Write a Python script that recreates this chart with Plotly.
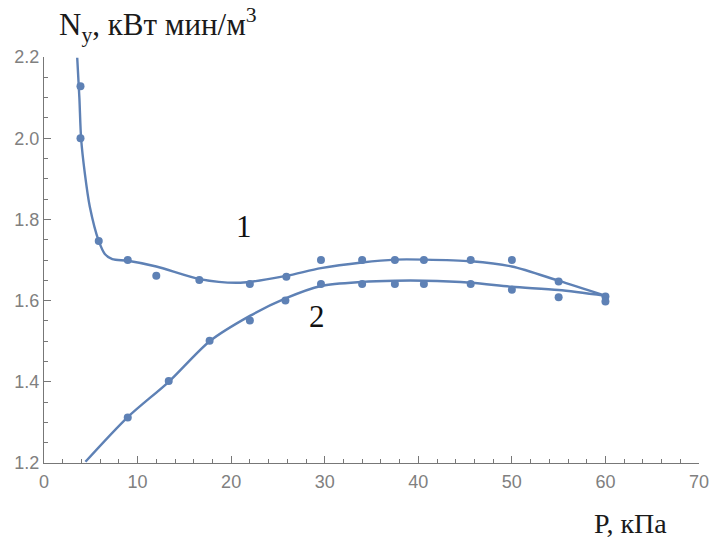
import plotly.graph_objects as go

# ---- measured points ----
p1 = [3.9, 3.9, 5.85, 8.95, 12.0, 16.6, 22.0, 25.9, 29.6, 34.0, 37.5, 40.6, 45.6, 50.0, 55.0, 60.0]
n1 = [2.128, 2.0, 1.747, 1.70, 1.661, 1.651, 1.641, 1.659, 1.70, 1.70, 1.70, 1.70, 1.70, 1.70, 1.647, 1.610]

p2 = [8.95, 13.33, 17.7, 22.0, 25.8, 29.6, 34.0, 37.5, 40.6, 45.6, 50.0, 55.0, 60.0]
n2 = [1.312, 1.402, 1.501, 1.551, 1.600, 1.641, 1.641, 1.641, 1.641, 1.641, 1.627, 1.608, 1.598]

# ---- fitted curves (knots) ----
fit1_p = [3.55, 3.78, 3.97, 4.36, 4.89, 5.85, 6.5, 7.3, 8.95, 12.0, 16.64, 21.0, 25.87,
          29.6, 33.98, 37.54, 40.63, 45.65, 50.0, 54.98, 59.96]
fit1_n = [2.198, 2.10, 1.998, 1.914, 1.832, 1.747, 1.715, 1.702, 1.698, 1.684, 1.653, 1.644, 1.661,
          1.680, 1.694, 1.701, 1.701, 1.697, 1.684, 1.649, 1.612]

fit2_p = [4.43, 8.95, 13.33, 17.71, 22.05, 25.87, 29.6, 33.98, 37.54, 40.63, 45.65, 50.0,
          54.98, 59.96]
fit2_n = [1.203, 1.313, 1.40, 1.50, 1.563, 1.606, 1.636, 1.646, 1.649, 1.649, 1.644, 1.634,
          1.626, 1.612]

x_ticks = [0, 10, 20, 30, 40, 50, 60, 70]
x_labels = ["0", "10", "20", "30", "40", "50", "60", "70"]
y_ticks = [1.2, 1.4, 1.6, 1.8, 2.0, 2.2]
y_labels = ["1.2", "1.4", "1.6", "1.8", "2.0", "2.2"]

curve_labels = ["1", "2"]
curve_label_pos = [(21.4, 1.782), (29.15, 1.561)]

COLOR = "#5E81B5"
AXIS = "#777777"
TICKFONT = dict(family="Liberation Sans, Arial, sans-serif", size=18, color="#808080")
SERIF = "Liberation Serif, Times New Roman, serif"

fig = go.Figure()
for fx, fy in ((fit1_p, fit1_n), (fit2_p, fit2_n)):
    fig.add_trace(go.Scatter(x=fx, y=fy, mode="lines",
                             line=dict(color=COLOR, width=2.4, shape="spline", smoothing=0.8),
                             showlegend=False, hoverinfo="skip"))
fig.add_trace(go.Scatter(x=p1, y=n1, mode="markers",
                         marker=dict(color=COLOR, size=8), showlegend=False))
fig.add_trace(go.Scatter(x=p2, y=n2, mode="markers",
                         marker=dict(color=COLOR, size=8), showlegend=False))

for txt, (px, py) in zip(curve_labels, curve_label_pos):
    fig.add_annotation(x=px, y=py, xref="x", yref="y", text=txt, showarrow=False,
                       font=dict(family=SERIF, size=31, color="#111111"))

fig.add_annotation(x=0.0198, y=1.08, xref="paper", yref="paper", xanchor="left", yanchor="middle",
                   text="N<sub>y</sub>, кВт мин/м<sup>3</sup>", showarrow=False,
                   font=dict(family=SERIF, size=31, color="#1a1a1a"))
fig.add_annotation(x=0.8947, y=-0.148, xref="paper", yref="paper", xanchor="center", yanchor="middle",
                   text="P, кПа", showarrow=False,
                   font=dict(family=SERIF, size=28, color="#1a1a1a"))

minor_x = [v for v in range(0, 71, 2)]
minor_y = [round(1.2 + 0.05 * i, 2) for i in range(21)]

common = dict(ticks="inside", ticklen=7, tickcolor=AXIS, tickwidth=1.2, showline=True,
              linecolor=AXIS, linewidth=1.3, showgrid=False, zeroline=False,
              tickfont=TICKFONT, automargin=False)
fig.update_xaxes(range=[0, 70], tickvals=x_ticks, ticktext=x_labels, ticklabelstandoff=2,
                 minor=dict(tickvals=minor_x, ticks="inside", ticklen=4, tickcolor=AXIS, tickwidth=1.2,
                            showgrid=False), **common)
fig.update_yaxes(range=[1.2, 2.2], tickvals=y_ticks, ticktext=y_labels,
                 minor=dict(tickvals=minor_y, ticks="inside", ticklen=4, tickcolor=AXIS, tickwidth=1.2,
                            showgrid=False), **common)

fig.update_layout(width=711, height=540, margin=dict(l=44, r=12, t=57, b=77),
                  plot_bgcolor="white", paper_bgcolor="white")

fig.write_html("out.html", config={"displayModeBar": False},
               post_script="document.body.style.margin='0';document.body.style.overflow='hidden';")
